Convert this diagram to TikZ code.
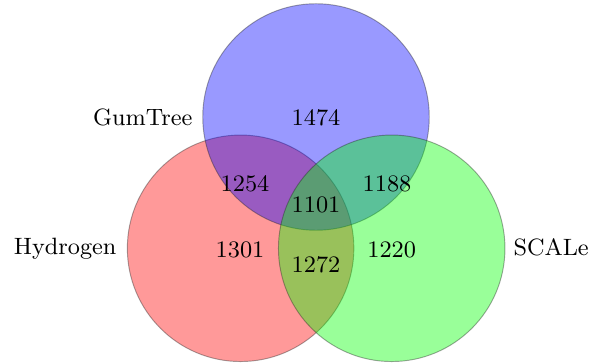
\documentclass[tikz,border=0pt]{standalone}
\begin{document}
\begin{tikzpicture}[x=0.013245cm,y=-0.013245cm,
  venn/.style={draw=black!85,opacity=0.4,line width=0.35pt},
  every node/.style={font=\fontsize{8.9pt}{11pt}\selectfont},
  num/.style={inner sep=0pt,anchor=center},
  setlabel/.style={inner sep=0pt}]
\useasboundingbox (0,0) rectangle (601,364);
\coordinate (cH) at (240.6,248.3);
\coordinate (cG) at (316,117);
\coordinate (cS) at (391.7,248.3);
\fill[white] (0,0) rectangle (601,364);
\draw[venn,fill=red] (cH) circle [radius=1.5cm];
\draw[venn,fill=blue] (cG) circle [radius=1.5cm];
\draw[venn,fill=green] (cS) circle [radius=1.5cm];
\node[num] (n1474) at (316,118) {1474};
\node[num] (n1254) at (245,183.5) {1254};
\node[num] (n1101) at (316,205) {1101};
\node[num] (n1188) at (387,183.5) {1188};
\node[num] (n1301) at (240,249.5) {1301};
\node[num] (n1272) at (316,265) {1272};
\node[num] (n1220) at (391.7,249.5) {1220};
\node[setlabel,anchor=base east] (lG) at (193,126) {GumTree};
\node[setlabel,anchor=base east] (lH) at (117,255) {Hydrogen};
\node[setlabel,anchor=base west] (lS) at (513,255.5) {SCALe};
\end{tikzpicture}
\end{document}
